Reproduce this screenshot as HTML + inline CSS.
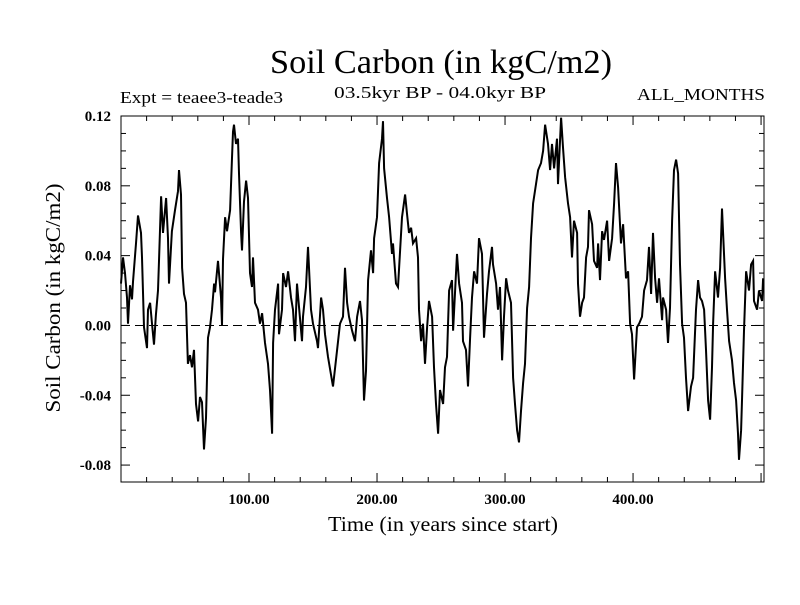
<!DOCTYPE html>
<html><head><meta charset="utf-8"><style>
html,body{margin:0;padding:0;background:#fff;}
svg text{font-family:"Liberation Serif",serif;fill:#000;}
</style></head><body>
<svg id="chart" width="800" height="600" xmlns="http://www.w3.org/2000/svg">
<text x="441" y="73" font-size="34" text-anchor="middle" textLength="342" lengthAdjust="spacingAndGlyphs">Soil Carbon (in kgC/m2)</text>
<text x="440" y="98" font-size="17" text-anchor="middle" textLength="212" lengthAdjust="spacingAndGlyphs">03.5kyr BP - 04.0kyr BP</text>
<text x="120" y="103" font-size="17" textLength="163" lengthAdjust="spacingAndGlyphs">Expt = teaee3-teade3</text>
<text x="765" y="100" font-size="17" text-anchor="end" textLength="128" lengthAdjust="spacingAndGlyphs">ALL_MONTHS</text>
<text x="443" y="531" font-size="21" text-anchor="middle" textLength="230" lengthAdjust="spacingAndGlyphs">Time (in years since start)</text>
<text x="0" y="0" font-size="21" text-anchor="middle" textLength="229" lengthAdjust="spacingAndGlyphs" transform="translate(60,298) rotate(-90)">Soil Carbon (in kgC/m2)</text>
<g id="ticks"></g>
<g id="zero"></g>
<g id="series"></g>
<rect x="121" y="116" width="643" height="366" fill="none" stroke="#000" stroke-width="1"/>
</svg>
<script>
const years=[0,1.6,3.1,4.7,5.5,7.0,8.6,9.4,11.7,13.3,15.6,16.4,18.0,20.3,21.1,22.7,24.2,25.8,27.3,28.9,29.7,31.3,32.8,35.2,36.7,37.5,39.8,42.2,44.5,45.3,46.9,47.7,49.2,50.8,52.3,53.9,55.5,57.0,58.6,60.2,61.7,63.3,64.8,66.4,68.0,69.5,71.1,72.7,73.4,75.8,78.1,78.9,79.7,81.3,82.8,85.2,86.7,87.5,88.3,89.8,91.4,92.2,93.8,94.5,96.1,97.7,99.2,100.8,102.3,103.1,104.7,107.0,108.6,110.2,112.5,114.8,116.4,118.0,118.8,120.3,122.7,123.4,125.8,126.6,128.9,130.5,132.8,134.4,135.9,137.5,139.1,141.4,142.2,144.5,146.1,148.4,150.0,153.1,153.9,156.3,157.8,159.4,161.7,165.6,168.8,171.1,173.4,175.0,176.6,178.1,180.5,182.8,184.4,186.7,188.3,189.8,191.4,193.0,195.3,196.9,197.7,200.0,201.6,203.9,204.7,205.5,207.8,209.4,211.7,212.5,214.8,216.4,218.0,219.5,221.9,223.4,225.0,226.6,228.1,230.5,232.0,232.8,234.4,235.9,237.5,239.1,240.6,243.0,244.5,246.1,247.7,249.2,251.6,253.1,254.7,256.3,258.6,259.4,261.7,262.5,264.1,266.4,267.2,269.5,271.1,272.7,274.2,275.8,278.1,279.7,282.0,283.6,285.9,287.5,289.8,290.6,293.0,294.5,296.1,297.7,299.2,300.8,302.3,304.7,306.3,307.8,309.4,310.9,312.5,314.1,315.6,317.2,318.8,320.3,321.9,324.2,325.8,328.1,329.7,331.3,333.6,335.2,336.7,338.3,340.6,341.4,343.8,345.3,346.9,349.2,350.8,352.3,353.9,356.3,357.0,358.6,360.2,361.7,363.3,364.8,365.6,368.0,369.5,371.9,372.7,374.2,375.8,377.3,379.7,381.3,383.6,385.2,386.7,388.3,390.6,392.2,394.5,396.1,397.7,399.2,400.8,403.1,404.7,407.0,408.6,410.9,412.5,414.1,415.6,417.2,418.8,420.3,422.7,423.4,425.8,427.3,428.9,430.5,432.0,433.6,435.2,436.7,438.3,439.8,441.4,443.0,445.3,446.9,449.2,450.8,452.3,453.9,455.5,457.0,458.6,460.2,461.7,462.5,464.1,466.4,468.0,469.5,470.3,471.9,473.4,475.0,477.3,478.9,480.5,482.0,482.8,484.4,485.2,486.7,488.3,489.8,490.6,492.2,493.8,494.5,496.9,498.4,500.8,501.6];
const values=[0.024,0.039,0.030,0.016,0.001,0.023,0.015,0.025,0.047,0.063,0.053,0.039,-0.001,-0.013,0.009,0.013,0.001,-0.011,0.006,0.020,0.037,0.074,0.053,0.073,0.050,0.024,0.054,0.066,0.077,0.089,0.075,0.033,0.018,0.013,-0.022,-0.017,-0.024,-0.014,-0.045,-0.055,-0.041,-0.044,-0.071,-0.053,-0.007,-0.001,0.009,0.024,0.019,0.037,0.016,0.000,0.038,0.062,0.054,0.066,0.096,0.111,0.115,0.104,0.107,0.087,0.053,0.043,0.071,0.083,0.073,0.030,0.022,0.039,0.013,0.009,0.001,0.007,-0.010,-0.022,-0.037,-0.062,-0.010,0.009,0.024,-0.005,0.009,0.030,0.022,0.031,0.016,0.009,-0.009,0.024,0.010,-0.009,0.005,0.022,0.045,0.009,0.001,-0.009,-0.013,0.016,0.009,-0.005,-0.018,-0.035,-0.014,0.001,0.005,0.033,0.013,0.005,-0.003,-0.009,0.005,0.014,0.003,-0.043,-0.026,0.026,0.043,0.030,0.050,0.062,0.093,0.107,0.117,0.090,0.073,0.062,0.041,0.047,0.024,0.022,0.043,0.062,0.075,0.064,0.053,0.056,0.047,0.050,0.039,0.009,-0.009,0.001,-0.022,-0.001,0.014,0.005,-0.024,-0.045,-0.062,-0.037,-0.045,-0.024,-0.018,0.020,0.026,-0.003,0.030,0.041,0.024,0.013,-0.009,-0.014,-0.035,-0.007,0.016,0.031,0.024,0.050,0.041,-0.007,0.018,0.031,0.045,0.035,0.024,0.009,0.022,-0.020,0.005,0.027,0.020,0.013,-0.030,-0.045,-0.060,-0.067,-0.049,-0.033,-0.022,0.010,0.022,0.050,0.070,0.081,0.089,0.093,0.100,0.115,0.104,0.089,0.104,0.090,0.107,0.081,0.119,0.102,0.085,0.070,0.062,0.039,0.060,0.053,0.024,0.005,0.013,0.016,0.039,0.045,0.066,0.058,0.037,0.033,0.047,0.026,0.054,0.049,0.060,0.037,0.050,0.070,0.093,0.079,0.047,0.058,0.027,0.031,0.001,-0.005,-0.031,-0.001,0.001,0.005,0.020,0.026,0.045,0.018,0.053,0.027,0.013,0.027,0.003,0.016,0.009,-0.010,0.010,0.060,0.089,0.095,0.087,0.035,0.001,-0.007,-0.030,-0.049,-0.035,-0.030,0.009,0.026,0.016,0.014,0.009,-0.014,-0.043,-0.054,-0.024,0.001,0.031,0.016,0.033,0.067,0.054,0.027,0.009,-0.009,-0.020,-0.033,-0.043,-0.062,-0.077,-0.060,-0.041,-0.003,0.031,0.024,0.020,0.035,0.037,0.014,0.009,0.020,0.014,0.027];
const yTickValues=[0.12,0.08,0.04,0.00,-0.04,-0.08];
const yTickLabels=["0.12","0.08","0.04","0.00","-0.04","-0.08"];
const xTickValues=[100,200,300,400];
const xTickLabels=["100.00","200.00","300.00","400.00"];

const L=121,R=764,T=116,B=482;
const X0=0,X1=502.3,Y0=-0.0897,Y1=0.12;
const sx=v=>L+(v-X0)/(X1-X0)*(R-L);
const sy=v=>B-(v-Y0)/(Y1-Y0)*(B-T);
const NS="http://www.w3.org/2000/svg";
function mk(tag,parent){const e=document.createElementNS(NS,tag);parent.appendChild(e);return e;}
const tg=document.getElementById('ticks');
for(let k=-8;k<=12;k++){
  const v=k/100, y=sy(v), major=(k%4===0);
  const len=major?9:5;
  [[L,L+len],[R,R-len]].forEach(p=>{
    const ln=mk('line',tg);
    
    
    ln.setAttribute('x1',p[0]);ln.setAttribute('x2',p[1]);ln.setAttribute('y1',y);ln.setAttribute('y2',y);ln.setAttribute('stroke','#000');
  });
}
yTickValues.forEach((v,i)=>{
  const t=mk('text',tg);
  
  
  t.setAttribute('x',L-10);t.setAttribute('y',sy(v)+5);t.setAttribute('font-size','15');t.setAttribute('font-weight','bold');t.setAttribute('text-anchor','end');
  t.textContent=yTickLabels[i];
});
for(let v=20;v<X1;v+=20){
  const x=sx(v), major=(v%100===0), len=major?9:5;
  [[B,B-len],[T,T+len]].forEach(p=>{
    const ln=mk('line',tg);
    
    
    ln.setAttribute('x1',x);ln.setAttribute('x2',x);ln.setAttribute('y1',p[0]);ln.setAttribute('y2',p[1]);ln.setAttribute('stroke','#000');
  });
}
xTickValues.forEach((v,i)=>{
  const t=mk('text',tg);
  
  
  t.setAttribute('x',sx(v));t.setAttribute('y',B+22);t.setAttribute('font-size','15');t.setAttribute('font-weight','bold');t.setAttribute('text-anchor','middle');
  t.textContent=xTickLabels[i];
});
const z=mk('line',document.getElementById('zero'));


z.setAttribute('x1',L);z.setAttribute('x2',R);z.setAttribute('y1',sy(0));z.setAttribute('y2',sy(0));
z.setAttribute('stroke','#000');z.setAttribute('stroke-dasharray','9,5');
const pl=mk('polyline',document.getElementById('series'));


pl.setAttribute('points',years.map((y,i)=>sx(y).toFixed(1)+','+sy(values[i]).toFixed(1)).join(' '));
pl.setAttribute('fill','none');pl.setAttribute('stroke','#000');pl.setAttribute('stroke-width','2');pl.setAttribute('stroke-linejoin','miter');
</script>
</body></html>
